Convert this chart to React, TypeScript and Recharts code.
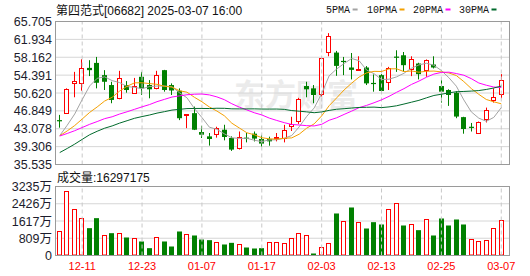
import React from 'react';
import {
  ComposedChart,
  Bar,
  Line,
  XAxis,
  YAxis,
  CartesianGrid,
  ReferenceLine,
} from 'recharts';

// ---- data -------------------------------------------------------------

const dates = [
  '12-06', '12-09', '12-10', '12-11', '12-12', '12-13', '12-16', '12-17', '12-18', '12-19',
  '12-20', '12-23', '12-24', '12-27', '12-30', '12-31', '01-02', '01-03', '01-06', '01-07',
  '01-08', '01-09', '01-10', '01-13', '01-14', '01-15', '01-16', '01-17', '01-20', '01-21',
  '01-22', '01-23', '01-24', '01-27', '01-28', '02-03', '02-04', '02-05', '02-06', '02-07',
  '02-10', '02-11', '02-12', '02-13', '02-14', '02-17', '02-18', '02-19', '02-20', '02-21',
  '02-24', '02-25', '02-26', '02-27', '02-28', '03-03', '03-04', '03-05', '03-06', '03-07',
];

const opens = [
  44.9, 46.37, 52.66, 52.66, 55.92, 56.97, 54.39, 52.3, 49.45, 52.3,
  50.55, 54.04, 52.3, 51.6, 55.44, 52.3, 51.1, 45.9, 46.37, 42.39,
  41.47, 41.82, 42.87, 41.13, 38.83, 41.2, 42.04, 40.92, 40.92, 41.2,
  40.92, 43.6, 44.6, 52.09, 51.6, 50.2, 59.27, 59.15, 57.4, 56.0,
  55.45, 56.0, 52.75, 54.39, 52.86, 58.3, 58.58, 55.58, 56.84, 55.44,
  56.63, 52.09, 51.25, 50.69, 45.53, 43.5, 42.18, 44.96, 49.0, 50.2,
];

const highs = [
  46.0, 51.6, 55.08, 57.74, 57.54, 58.23, 55.44, 52.99, 55.3, 53.13,
  53.8, 55.08, 53.34, 55.3, 55.5, 52.65, 51.6, 46.15, 47.75, 43.7,
  42.18, 43.5, 43.92, 41.47, 42.5, 42.18, 42.5, 41.8, 41.4, 42.18,
  43.9, 45.6, 49.6, 52.99, 52.3, 58.1, 63.25, 59.5, 58.23, 59.06,
  58.37, 56.3, 54.54, 54.6, 56.13, 59.63, 59.27, 58.37, 57.0, 57.7,
  58.37, 53.34, 51.4, 51.0, 45.6, 44.3, 44.6, 47.54, 51.6, 54.6,
];

const lows = [
  43.3, 46.3, 49.72, 51.1, 54.19, 51.6, 51.25, 48.46, 49.3, 50.68,
  50.45, 50.2, 49.5, 51.4, 50.9, 50.2, 44.9, 43.2, 42.8, 41.13,
  39.52, 41.2, 40.63, 38.4, 38.7, 40.2, 40.4, 39.3, 39.5, 40.42,
  40.2, 42.6, 44.1, 49.72, 48.46, 49.9, 58.37, 54.24, 54.39, 53.49,
  55.3, 52.3, 50.9, 50.7, 51.25, 55.08, 55.08, 54.18, 53.49, 54.04,
  55.8, 48.6, 47.9, 45.3, 42.03, 42.5, 42.0, 44.4, 48.6, 49.5,
];

const closes = [
  44.75, 51.46, 53.14, 55.79, 55.44, 52.78, 52.99, 49.16, 53.7, 51.25,
  51.94, 51.6, 51.4, 54.25, 51.25, 51.15, 45.3, 46.1, 42.87, 41.82,
  40.92, 43.08, 41.34, 38.68, 41.15, 41.1, 41.0, 39.94, 40.42, 41.3,
  42.66, 43.9, 49.16, 51.4, 50.2, 57.89, 62.56, 56.34, 57.2, 55.5,
  55.65, 52.65, 52.5, 51.04, 55.8, 58.1, 56.49, 57.74, 54.6, 57.54,
  56.0, 50.9, 50.2, 45.65, 43.02, 43.4, 44.3, 46.91, 49.72, 53.34,
];

// traded volume, in units of 万 shares
const volumes = [
  1126, 3002, 2143, 1720, 1282, 1751, 938, 1047, 1016, 844,
  797, 657, 344, 844, 657, 422, 1126, 969, 938, 750,
  719, 610, 516, 594, 500, 375, 328, 344, 594, 594,
  547, 782, 1016, 922, 94, 359, 547, 1970, 1595, 2251,
  1548, 1266, 1563, 1454, 2157, 2439, 1407, 1438, 1188, 1673,
  938, 1735, 1407, 1688, 1454, 750, 657, 703, 1266, 1629.7175,
];

// closes of the sessions before the first shown day, used to seed the moving averages
const earlierCloses = [
  25.5, 25.8, 25.6, 26.0, 31.0, 33.5, 34.8, 35.9, 36.1, 36.5,
  40.8, 41.5, 42.3, 41.9, 41.2, 40.6, 41.4, 42.1, 41.7, 41.5,
  41.2, 41.8, 42.0, 41.5, 41.3,
  40.5, 41.3, 40.6, 41.0,
];

const priceTicks = [35.535, 39.306, 43.078, 46.849, 50.62, 54.391, 58.162, 61.934, 65.705];
const volumeTicks = [0, 809, 1617, 2426, 3235];
const dateTicks = ['12-11', '12-23', '01-07', '01-17', '02-03', '02-13', '02-25', '03-07'];

const maSeries = [
  { key: 'ma5', days: 5, label: '5PMA', color: '#a3a3a3' },
  { key: 'ma10', days: 10, label: '10PMA', color: '#f4a000' },
  { key: 'ma20', days: 20, label: '20PMA', color: '#ff00ff' },
  { key: 'ma30', days: 30, label: '30PMA', color: '#006a2c' },
];

// ---- derived rows -----------------------------------------------------

const allCloses = [...earlierCloses, ...closes];

function movingAverage(i: number, days: number): number {
  const end = earlierCloses.length + i;
  const win = allCloses.slice(end - days + 1, end + 1);
  return win.reduce((s, v) => s + v, 0) / win.length;
}

const rows = dates.map((date, i) => {
  const prevClose = i === 0 ? earlierCloses[earlierCloses.length - 1] : closes[i - 1];
  const row: any = {
    date,
    open: opens[i],
    high: highs[i],
    low: lows[i],
    close: closes[i],
    vol: volumes[i],
    volUp: closes[i] >= prevClose,
  };
  maSeries.forEach((m) => {
    row[m.key] = +movingAverage(i, m.days).toFixed(3);
  });
  return row;
});

const lastVolumeShares = Math.round(volumes[volumes.length - 1] * 10000);

// ---- drawing helpers --------------------------------------------------

const RED = '#ff0000';
const GREEN = '#008000';
const GRID = '#d6d6d6';
const DASH = '#c8c8c8';
const FRAME = '#9a9a9a';
const SANS = "'Liberation Sans', Arial, 'Noto Sans CJK SC', sans-serif";
const MONO = "'Liberation Mono', 'Courier New', monospace";

const snap = (v: number) => Math.round(v - 0.5) + 0.5;

function Candle(props: any) {
  const { x, y, width, height, payload } = props;
  if (x == null || y == null) return null;
  const top = Math.min(y, y + height);
  const span = Math.abs(height);
  const { open, close, high, low } = payload;
  const range = high - low || 1;
  const py = (v: number) => top + ((high - v) / range) * span;
  const cx = snap(x + width / 2);
  const up = close > open;
  const bodyTop = py(Math.max(open, close));
  const bodyBot = py(Math.min(open, close));
  if (up) {
    const t = snap(bodyTop);
    const b = Math.max(snap(bodyBot), t + 1);
    return (
      <g>
        <line x1={cx} x2={cx} y1={py(high)} y2={t} stroke={RED} strokeWidth={1} />
        <line x1={cx} x2={cx} y1={b} y2={py(low)} stroke={RED} strokeWidth={1} />
        <rect x={cx - 2} y={t} width={4} height={b - t} fill="#ffffff" stroke={RED} strokeWidth={1} />
      </g>
    );
  }
  return (
    <g>
      <line x1={cx} x2={cx} y1={py(high)} y2={py(low)} stroke={GREEN} strokeWidth={1} />
      <rect
        x={cx - 2.5}
        y={bodyTop}
        width={5}
        height={Math.max(bodyBot - bodyTop, 1.2)}
        fill={GREEN}
      />
    </g>
  );
}

function VolumeBar(props: any) {
  const { x, y, width, height, payload } = props;
  if (x == null || y == null) return null;
  const cx = snap(x + width / 2);
  const bottom = y + height;
  if (payload.volUp) {
    const t = snap(y);
    return (
      <rect x={cx - 2} y={t} width={4} height={Math.max(bottom - t - 0.5, 1)} fill="#ffffff" stroke={RED} strokeWidth={1} />
    );
  }
  return <rect x={cx - 2.5} y={y} width={5} height={height} fill={GREEN} />;
}

function PriceTick(props: any) {
  const { y, payload } = props;
  return (
    <text x={52} y={y} dy={4.5} textAnchor="end" fontSize={12.5} fontFamily={SANS} fill="#1c1c2c">
      {Number(payload.value).toFixed(3)}
    </text>
  );
}

function VolumeTick(props: any) {
  const { y, payload } = props;
  const v = Number(payload.value);
  return (
    <text x={52} y={y} dy={4.5} textAnchor="end" fontSize={12.5} fontFamily={SANS} fill="#1c1c2c">
      {v === 0 ? '0' : `${v}万`}
    </text>
  );
}

function DateTick(props: any) {
  const { x, payload } = props;
  return (
    <text x={x} y={270} textAnchor="middle" fontSize={11} fontFamily={SANS} fill={RED}>
      {payload.value}
    </text>
  );
}

const PLOT_LEFT = 55.5;
const PLOT_RIGHT = 509.5;
const PRICE_TOP = 21.5;
const PRICE_BOTTOM = 164.5;
const VOL_TOP = 186.5;
const VOL_BOTTOM = 255.5;
const W = 530;
const H = 276;
const xPadding = { left: 0.5, right: 4.5 };

const layer: React.CSSProperties = { position: 'absolute', left: 0, top: 0 };

export default function App() {
  return (
    <div style={{ position: 'absolute', left: 0, top: 0, width: W, height: H, background: '#ffffff', overflow: 'hidden' }}>
      {/* faint site mark behind the price panel */}
      <svg style={layer} width={W} height={H}>
        <text x={234} y={106} fontSize={31} fontWeight={700} fontFamily="'Noto Sans CJK SC', sans-serif" fill="#ebebeb">
          东方财富
        </text>
      </svg>

      {/* price panel */}
      <div style={layer}>
        <ComposedChart
          width={W}
          height={H}
          data={rows}
          margin={{ top: PRICE_TOP, right: W - PLOT_RIGHT, bottom: H - PRICE_BOTTOM, left: 0 }}
        >
          <CartesianGrid vertical={false} stroke={GRID} />
          <XAxis dataKey="date" hide padding={xPadding} />
          <YAxis
            width={PLOT_LEFT}
            domain={[priceTicks[0], priceTicks[priceTicks.length - 1]]}
            ticks={priceTicks}
            interval={0}
            axisLine={false}
            tickLine={false}
            tick={PriceTick}
            allowDataOverflow
          />
          {dateTicks.map((d) => (
            <ReferenceLine key={d} x={d} stroke={DASH} strokeDasharray="4 3" />
          ))}
          <Bar
            dataKey={(r: any) => [r.low, r.high]}
            barSize={5}
            shape={Candle}
            isAnimationActive={false}
          />
          {maSeries.map((m) => (
            <Line
              key={m.key}
              dataKey={m.key}
              stroke={m.color}
              strokeWidth={1}
              dot={false}
              activeDot={false}
              isAnimationActive={false}
            />
          ))}
        </ComposedChart>
      </div>

      {/* volume panel */}
      <div style={layer}>
        <ComposedChart
          width={W}
          height={H}
          data={rows}
          margin={{ top: VOL_TOP, right: W - PLOT_RIGHT, bottom: 0, left: 0 }}
        >
          <CartesianGrid vertical={false} stroke={GRID} />
          <XAxis
            dataKey="date"
            height={H - VOL_BOTTOM}
            ticks={dateTicks}
            interval={0}
            axisLine={false}
            tickLine={false}
            tick={DateTick}
            padding={xPadding}
          />
          <YAxis
            width={PLOT_LEFT}
            domain={[0, volumeTicks[volumeTicks.length - 1]]}
            ticks={volumeTicks}
            interval={0}
            axisLine={false}
            tickLine={false}
            tick={VolumeTick}
            allowDataOverflow
          />
          {dateTicks.map((d) => (
            <ReferenceLine key={d} x={d} stroke={DASH} strokeDasharray="4 3" />
          ))}
          <Bar dataKey="vol" barSize={5} shape={VolumeBar} isAnimationActive={false} />
        </ComposedChart>
      </div>

      {/* frames, title, legend and volume caption */}
      <svg style={{ ...layer, pointerEvents: 'none' }} width={W} height={H}>
        <rect x={PLOT_LEFT} y={PRICE_TOP} width={PLOT_RIGHT - PLOT_LEFT} height={PRICE_BOTTOM - PRICE_TOP} fill="none" stroke={FRAME} />
        <rect x={PLOT_LEFT} y={VOL_TOP} width={PLOT_RIGHT - PLOT_LEFT} height={VOL_BOTTOM - VOL_TOP} fill="none" stroke={FRAME} />
        <text x={56} y={14.5} fontSize={12} fontFamily={SANS} fill="#111111">
          第四范式[06682] 2025-03-07 16:00
        </text>
        {(() => {
          const starts = [326, 367, 413, 459];
          return maSeries.map((m, k) => {
            const textW = m.label.length * 5.9;
            const lx = starts[k] + textW + 3;
            return (
              <g key={m.key}>
                <text x={starts[k]} y={13} fontSize={10} fontFamily={MONO} fill="#111111">
                  {m.label}
                </text>
                <rect x={lx} y={8.5} width={5} height={2} fill={m.color} />
              </g>
            );
          });
        })()}
        <text x={57} y={182} fontSize={12} fontFamily={SANS} fill="#111111">
          成交量:{lastVolumeShares}
        </text>
      </svg>
    </div>
  );
}
